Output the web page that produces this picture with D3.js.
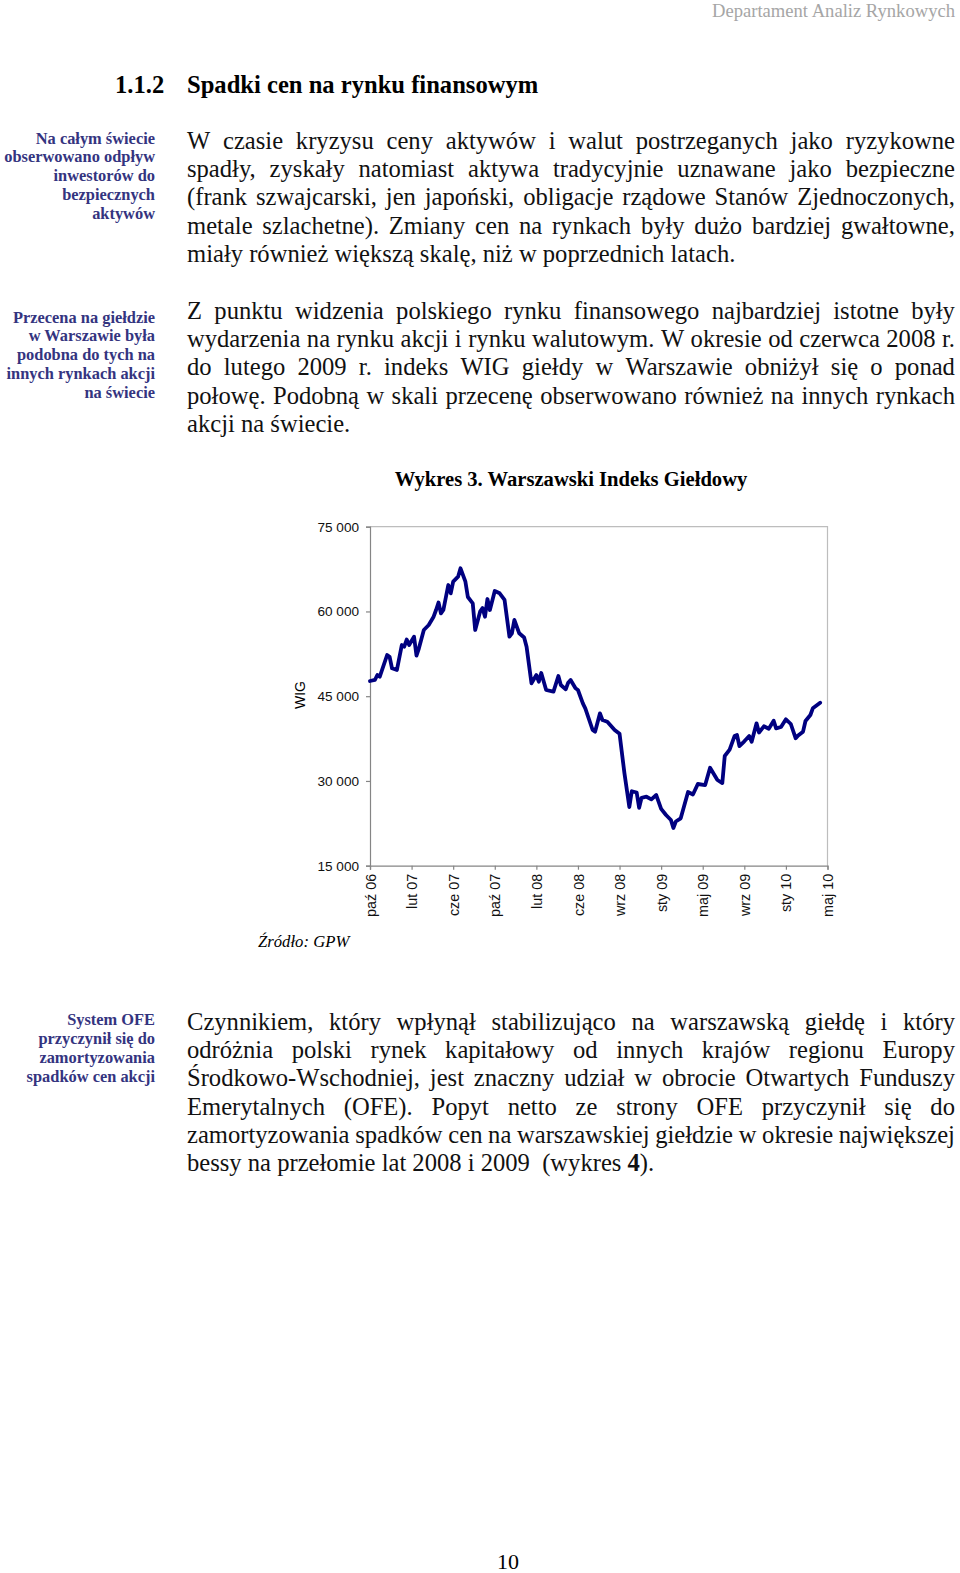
<!DOCTYPE html>
<html lang="pl">
<head>
<meta charset="utf-8">
<script src="https://cdn.jsdelivr.net/npm/d3@7"></script>
<style>
  body { margin: 0; background: #fff; }
  #page { position: relative; width: 960px; height: 1573px; overflow: hidden; font-family: "Liberation Serif", "Times New Roman", serif; color: #111; }
  .para { position: absolute; left: 187px; width: 768px; font-size: 24.6px; line-height: 28.3px; }
  .line { display: flex; justify-content: space-between; white-space: nowrap; }
  .line.last { display: block; }
  .note { position: absolute; left: 0; width: 155px; text-align: right; font-size: 16.4px; line-height: 18.9px; font-weight: bold; color: #34347f; }
  #scatter { position: absolute; left: 0; top: 0; }
</style>
</head>
<body>
<div id="page">
  <div id="scatter"></div>
</div>
<script>
// weekly WIG closes (week 0 = first week of Oct 2006)
var weekIdx = [0, 2, 3, 4, 7, 8, 9, 11, 13, 14, 15, 16, 18, 19, 20, 22, 24, 26, 27, 28,
  29, 30, 32, 33, 34, 36, 37, 39, 40, 42, 43, 45, 46, 47, 48, 49, 51, 53, 55, 57,
  58, 59, 61, 63, 64, 66, 68, 69, 70, 72, 75, 77, 78, 80, 81, 82, 84, 85, 87, 88,
  91, 92, 94, 95, 97, 100, 102, 104, 106, 107, 109, 110, 111, 113, 115, 117, 119, 121, 123, 124,
  125, 127, 130, 132, 134, 137, 139, 142, 144, 145, 147, 149, 150, 151, 153, 155, 156, 158, 159, 161,
  163, 165, 166, 168, 170, 172, 174, 175, 177, 178, 180, 181, 184];

var wigValues = [47690, 47870, 48750, 48450, 52290, 51990, 49940, 49640, 54060, 53760, 55030, 54060, 55530, 52200, 53480, 56720, 57600, 59070, 60260, 61580,
  59670, 60260, 64680, 63210, 65270, 66150, 67640, 65270, 62560, 61440, 56720, 59960, 60610, 59070, 62200, 60260, 63620, 63210, 62030, 55530,
  56130, 58490, 56130, 55390, 53760, 47280, 48750, 47570, 49110, 46100, 45800, 48570, 46980, 46220, 47390, 47870, 46400, 46100, 43740, 42860,
  39020, 38720, 41970, 40790, 40490, 39020, 38340, 31350, 25390, 28180, 27950, 25250, 27020, 27210, 26750, 27510, 25070, 23970, 23090, 21670,
  22820, 23390, 28040, 27600, 29460, 29280, 32330, 30170, 29630, 34410, 35530, 37950, 38130, 36180, 37020, 37950, 36950, 40200, 38570, 39670,
  39230, 40660, 39320, 39550, 40910, 40080, 37550, 38040, 38720, 40610, 41670, 42860, 43850];

var tickLabels = ["paź 06", "lut 07", "cze 07", "paź 07", "lut 08", "cze 08", "wrz 08", "sty 09", "maj 09", "wrz 09", "sty 10", "maj 10"];
var weeksPerTick = 17;
var yTicks = [15000, 30000, 45000, 60000, 75000];

// page text
var para1 = [
  "W czasie kryzysu ceny aktywów i walut postrzeganych jako ryzykowne",
  "spadły, zyskały natomiast aktywa tradycyjnie uznawane jako bezpieczne",
  "(frank szwajcarski, jen japoński, obligacje rządowe Stanów Zjednoczonych,",
  "metale szlachetne). Zmiany cen na rynkach były dużo bardziej gwałtowne,",
  "miały również większą skalę, niż w poprzednich latach."
];
var para2 = [
  "Z punktu widzenia polskiego rynku finansowego najbardziej istotne były",
  "wydarzenia na rynku akcji i rynku walutowym. W okresie od czerwca 2008 r.",
  "do lutego 2009 r. indeks WIG giełdy w Warszawie obniżył się o ponad",
  "połowę. Podobną w skali przecenę obserwowano również na innych rynkach",
  "akcji na świecie."
];
var para3 = [
  "Czynnikiem, który wpłynął stabilizująco na warszawską giełdę i który",
  "odróżnia polski rynek kapitałowy od innych krajów regionu Europy",
  "Środkowo-Wschodniej, jest znaczny udział w obrocie Otwartych Funduszy",
  "Emerytalnych (OFE). Popyt netto ze strony OFE przyczynił się do",
  "zamortyzowania spadków cen na warszawskiej giełdzie w okresie największej",
  "bessy na przełomie lat 2008 i 2009&nbsp; (wykres <b>4</b>)."
];
var note1 = ["Na całym świecie", "obserwowano odpływ", "inwestorów do", "bezpiecznych", "aktywów"];
var note2 = ["Przecena na giełdzie", "w Warszawie była", "podobna do tych na", "innych rynkach akcji", "na świecie"];
var note3 = ["System OFE", "przyczynił się do", "zamortyzowania", "spadków cen akcji"];

var page = d3.select("#page");

// justified paragraph, every line but the last spread edge to edge
function addPara(lines, top) {
  var p = page.append("div").attr("class", "para").style("top", top + "px");
  lines.forEach(function(txt, i) {
    var row = p.append("div").attr("class", i === lines.length - 1 ? "line last" : "line");
    if (i === lines.length - 1) {
      row.html(txt);
    } else {
      txt.split(" ").forEach(function(w) {
        row.append("span").text(w);
      });
    }
  });
}

function addNote(lines, top) {
  page.append("div").attr("class", "note").style("top", top + "px")
    .html(lines.join("<br>"));
}

addPara(para1, 126.7);
addPara(para2, 296.7);
addPara(para3, 1007.7);
addNote(note1, 129.5);
addNote(note2, 308.5);
addNote(note3, 1011);

// svg for the chart and the loose labels
var svg = d3.select("#scatter").append("svg")
  .attr("width", 960)
  .attr("height", 1573);

var serif = "'Liberation Serif', 'Times New Roman', serif";
var sans = "'Liberation Sans', Arial, sans-serif";

svg.append("text")
  .attr("x", 955).attr("y", 16.5)
  .attr("text-anchor", "end")
  .style("font-family", serif).style("font-size", "18.6px").style("fill", "#a6a6a6")
  .text("Departament Analiz Rynkowych");

svg.append("text")
  .attr("x", 115).attr("y", 93)
  .style("font-family", serif).style("font-size", "24.6px").style("font-weight", "bold")
  .text("1.1.2");

svg.append("text")
  .attr("x", 187).attr("y", 93)
  .style("font-family", serif).style("font-size", "24.6px").style("font-weight", "bold")
  .text("Spadki cen na rynku finansowym");

svg.append("text")
  .attr("x", 571).attr("y", 486)
  .attr("text-anchor", "middle")
  .style("font-family", serif).style("font-size", "20.6px").style("font-weight", "bold")
  .text("Wykres 3. Warszawski Indeks Giełdowy");

svg.append("text")
  .attr("x", 258).attr("y", 947)
  .style("font-family", serif).style("font-size", "16.7px").style("font-style", "italic")
  .text("Źródło: GPW");

svg.append("text")
  .attr("x", 508).attr("y", 1569)
  .attr("text-anchor", "middle")
  .style("font-family", serif).style("font-size", "22px")
  .text("10");

// plot area
var margin = { left: 370, top: 526.7 };
var width = 457.5;
var height = 339;

var chartGroup = svg.append("g")
  .attr("transform", `translate(${margin.left}, ${margin.top})`);

var lastWeek = weeksPerTick * (tickLabels.length - 1);

var xLinearScale = d3.scaleLinear()
  .domain([0, lastWeek])
  .range([0, width]);

var yLinearScale = d3.scaleLinear()
  .domain([15000, 75000])
  .range([height, 0]);

// light frame on top and right
chartGroup.append("path")
  .attr("d", `M0,0H${width}V${height}`)
  .attr("fill", "none")
  .attr("stroke", "#bdbdbd")
  .attr("stroke-width", 1.2);

var leftAxis = d3.axisLeft(yLinearScale)
  .tickValues(yTicks)
  .tickSize(4)
  .tickPadding(7)
  .tickFormat(d => d3.format(",")(d).replace(",", " "));

var bottomAxis = d3.axisBottom(xLinearScale)
  .tickValues(tickLabels.map((d, i) => i * weeksPerTick))
  .tickSize(4)
  .tickFormat((d, i) => tickLabels[i]);

var yAxis = chartGroup.append("g").call(leftAxis);
var xAxis = chartGroup.append("g")
  .attr("transform", `translate(0, ${height})`)
  .call(bottomAxis);

[yAxis, xAxis].forEach(function(ax) {
  ax.select(".domain").attr("stroke", "#858585").attr("stroke-width", 1.2);
  ax.selectAll(".tick line").attr("stroke", "#858585").attr("stroke-width", 1.2);
  ax.selectAll("text")
    .style("font-family", sans)
    .style("font-size", "13.6px")
    .attr("fill", "#111");
});

xAxis.selectAll(".tick text")
  .style("font-size", "14.4px")
  .attr("text-anchor", "end")
  .attr("transform", "rotate(-90)")
  .attr("x", -8)
  .attr("y", 0)
  .attr("dy", "0.35em");

chartGroup.append("text")
  .attr("transform", "rotate(-90)")
  .attr("x", 0 - (695 - margin.top))
  .attr("y", 300 - margin.left)
  .attr("dy", "0.35em")
  .attr("text-anchor", "middle")
  .style("font-family", sans)
  .style("font-size", "14px")
  .text("WIG");

// the index line
var wigLine = d3.line()
  .x((d, i) => xLinearScale(weekIdx[i]))
  .y(d => yLinearScale(d));

chartGroup.append("path")
  .datum(wigValues)
  .attr("d", wigLine)
  .attr("fill", "none")
  .attr("stroke", "#000080")
  .attr("stroke-width", 3.8)
  .attr("stroke-linejoin", "round")
  .attr("stroke-linecap", "round");
</script>
</body>
</html>
